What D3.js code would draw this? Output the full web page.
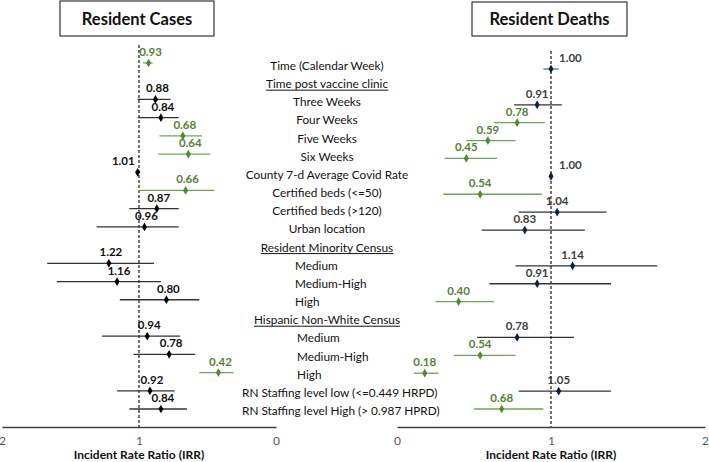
<!DOCTYPE html>
<html><head><meta charset="utf-8">
<script src="https://cdn.jsdelivr.net/npm/d3@7"></script>
<style>
html,body{margin:0;padding:0;background:#fff;}
svg{display:block;font-family:Lato,"Open Sans",sans-serif;}
</style></head>
<body>
<svg id="chart" width="709" height="462"></svg>
<script>
// ---------- data ----------
const rowLabels = [
  "Time (Calendar Week)", "Time post vaccine clinic", "Three Weeks", "Four Weeks", "Five Weeks", "Six Weeks",
  "County 7-d Average Covid Rate", "Certified beds (<=50)", "Certified beds (>120)", "Urban location",
  "Resident Minority Census", "Medium", "Medium-High", "High",
  "Hispanic Non-White Census", "Medium", "Medium-High", "High",
  "RN Staffing level low (<=0.449 HRPD)", "RN Staffing level High (> 0.987 HPRD)"
];
const headerRows = [1, 10, 14];
const subRows = [11, 12, 13, 15, 16, 17];
const staffRows = [18, 19];
const estimateRows = [0, 2, 3, 4, 5, 6, 7, 8, 9, 11, 12, 13, 15, 16, 17, 18, 19];

const casesIRR  = [0.93, 0.88, 0.84, 0.68, 0.64, 1.01, 0.66, 0.87, 0.96, 1.22, 1.16, 0.80, 0.94, 0.78, 0.42, 0.92, 0.84];
const casesLow  = [0.90, 0.77, 0.71, 0.54, 0.48, 1.00, 0.45, 0.71, 0.71, 0.89, 0.84, 0.56, 0.70, 0.59, 0.31, 0.74, 0.65];
const casesHigh = [0.97, 1.01, 1.01, 0.85, 0.86, 1.02, 1.00, 1.07, 1.31, 1.67, 1.60, 1.14, 1.27, 1.04, 0.56, 1.16, 1.07];
const casesSig  = [true, false, false, true, true, false, true, false, false, false, false, false, false, false, true, false, false];

const deathsIRR  = [1.00, 0.91, 0.78, 0.59, 0.45, 1.00, 0.54, 1.04, 0.83, 1.14, 0.91, 0.40, 0.78, 0.54, 0.18, 1.05, 0.68];
const deathsLow  = [0.95, 0.76, 0.63, 0.45, 0.31, 1.00, 0.30, 0.79, 0.55, 0.77, 0.60, 0.25, 0.52, 0.37, 0.11, 0.79, 0.50];
const deathsHigh = [1.05, 1.07, 0.96, 0.77, 0.65, 1.00, 0.94, 1.36, 1.22, 1.69, 1.39, 0.63, 1.15, 0.77, 0.27, 1.39, 0.95];
const deathsSig  = [false, false, true, true, true, false, true, false, false, false, false, true, false, true, true, false, true];

const axisTicks = [0, 1, 2];
const panelTitles = ["Resident Cases", "Resident Deaths"];
const axisTitle = "Incident Rate Ratio (IRR)";

// ---------- setup ----------
const svg = d3.select("#chart");
const GREEN_TXT = "#548235", GREEN_LINE = "#6aa84f", GREEN_PT = "#4f8a2e";
const NAVY = "#0b1f4f";

const rowIdx = d3.range(rowLabels.length);
const yLeft = d3.scalePoint().domain(rowIdx).range([63, 409]);
const yRight = d3.scalePoint().domain(rowIdx).range([69, 409]);
const yMid = d3.scalePoint().domain(rowIdx).range([65, 410]);

const xLeft = d3.scaleLinear().domain([2, 0]).range([2, 276]);
const xRight = d3.scaleLinear().domain([0, 2]).range([397, 705]);

const axisY = 427;

function panel(opts) {
  const {x, y, irr, low, high, sig, isDeaths, title, box} = opts;
  const g = svg.append("g");

  // reference line at 1
  g.append("line")
    .attr("x1", x(1)).attr("x2", x(1))
    .attr("y1", y(0) - 18).attr("y2", axisY)
    .attr("stroke", "#000").attr("stroke-width", 1.1)
    .attr("stroke-dasharray", "3,2");

  // axis
  const ax = d3.axisBottom(x).tickValues(axisTicks).tickSize(0).tickPadding(9).tickFormat(d3.format("d"));
  const axG = g.append("g").attr("transform", `translate(0,${axisY})`).call(ax);
  axG.select(".domain").attr("stroke", "#404040").attr("stroke-width", 1.3);
  axG.selectAll("text").attr("font-size", 12).attr("fill", "#595959").attr("font-family", "Lato, sans-serif");

  g.append("text")
    .attr("x", x(1)).attr("y", 459)
    .attr("text-anchor", "middle")
    .attr("font-size", 12).attr("font-weight", "bold").attr("fill", "#111")
    .text(axisTitle);

  // title box
  g.append("rect").attr("x", box[0]).attr("y", box[1]).attr("width", box[2]).attr("height", box[3])
    .attr("fill", "#fff").attr("stroke", "#222").attr("stroke-width", 1.1);
  g.append("text")
    .attr("x", box[0] + box[2] / 2).attr("y", box[1] + box[3] / 2 + 6)
    .attr("text-anchor", "middle").attr("font-size", 16.5).attr("font-weight", "bold").attr("fill", "#111")
    .text(title);

  const data = estimateRows.map((r, i) => ({row: r, v: irr[i], lo: low[i], hi: high[i], sig: sig[i], i}));

  // CI lines
  g.selectAll(".ci").data(data).join("line")
    .attr("x1", d => x(d.lo)).attr("x2", d => x(d.hi))
    .attr("y1", d => y(d.row)).attr("y2", d => y(d.row))
    .attr("stroke", d => d.sig ? GREEN_LINE : (isDeaths && d.i === 0 ? "#4472c4" : "#333"))
    .attr("stroke-width", 1.3);

  // points
  g.selectAll(".pt").data(data).join("path")
    .attr("d", d3.symbol().type(d3.symbolDiamond).size(22))
    .attr("transform", d => `translate(${x(d.v)},${y(d.row)})`)
    .attr("fill", d => d.sig ? GREEN_PT : (isDeaths ? NAVY : "#000"));

  // value labels
  const nearOne = d => Math.abs(d.v - 1) < 0.015;
  g.selectAll(".lbl").data(data).join("text")
    .attr("x", d => nearOne(d) ? (isDeaths ? x(d.v) + 8 : x(d.v) - 3) : x(d.v) + (isDeaths ? 0 : 2))
    .attr("y", d => y(d.row) - 7)
    .attr("text-anchor", d => nearOne(d) ? (isDeaths ? "start" : "end") : "middle")
    .attr("font-size", 11.5).attr("font-weight", "bold")
    .attr("fill", d => d.sig ? GREEN_TXT : (isDeaths ? "#404040" : "#111"))
    .text(d => d3.format(".2f")(d.v));
}

panel({x: xLeft, y: yLeft, irr: casesIRR, low: casesLow, high: casesHigh, sig: casesSig,
  isDeaths: false, title: panelTitles[0], box: [60, 1, 154, 35]});
panel({x: xRight, y: yRight, irr: deathsIRR, low: deathsLow, high: deathsHigh, sig: deathsSig,
  isDeaths: true, title: panelTitles[1], box: [472, 2, 155, 34]});

// ---------- row labels ----------
const lg = svg.append("g");
rowIdx.forEach(r => {
  let anchor = "middle", lx = 327;
  if (subRows.includes(r)) { anchor = "start"; lx = r > 14 ? 297 : 295; }
  if (staffRows.includes(r)) { anchor = "start"; lx = 242; }
  const t = lg.append("text")
    .attr("x", lx).attr("y", yMid(r) + 5)
    .attr("text-anchor", anchor)
    .attr("font-size", 11.8).attr("fill", "#111")
    .text(rowLabels[r]);
  if (headerRows.includes(r)) {
    const bb = t.node().getBBox();
    lg.append("line")
      .attr("x1", bb.x).attr("x2", bb.x + bb.width)
      .attr("y1", yMid(r) + 7).attr("y2", yMid(r) + 7)
      .attr("stroke", "#111").attr("stroke-width", 1);
  }
});
</script>
</body></html>
